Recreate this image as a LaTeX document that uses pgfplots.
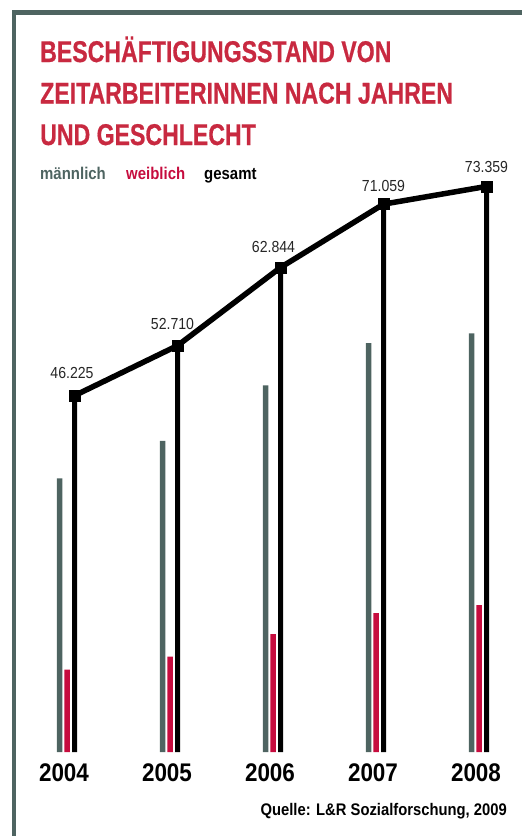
\documentclass[border=0pt]{standalone}
\usepackage{fontspec}
\setmainfont{Liberation Sans}
\newfontfamily\cond[FakeStretch=0.88]{Liberation Sans}
\newfontfamily\condT[FakeStretch=0.77, BoldFeatures={FakeBold=0.6}]{Liberation Sans}
\usepackage{pgfplots}
\usepackage{pgfplotstable}
\pgfplotsset{compat=1.18}
\definecolor{framegray}{HTML}{4E6461}
\definecolor{bargray}{HTML}{4E6461}
\definecolor{barred}{HTML}{C60C3E}
\definecolor{titlered}{HTML}{C82940}
\definecolor{valgray}{HTML}{262626}

\pgfplotstableread{
x male female
0 35500 10700
1 40350 12360
2 47550 15294
3 53040 18019
4 54310 19049
}\bars
\pgfplotstableread{
x total dx dy
0.073 46225 -2.5 23
1.073 52710 -5 21.5
2.073 62844 -7 20
3.073 71059 0 18
4.073 73359 0 19
}\totals

\begin{document}
\begin{tikzpicture}
\useasboundingbox (0pt,0pt) rectangle (522pt,-836pt);
\draw[framegray, line width=4.5pt] (14pt,-840pt) -- (14pt,-12.5pt) -- (526pt,-12.5pt);
\node[anchor=base west, inner sep=0, font=\condT\bfseries\fontsize{30}{30}\selectfont, text=titlered] at (40pt,-62pt) {BESCHÄFTIGUNGSSTAND VON};
\node[anchor=base west, inner sep=0, font=\condT\bfseries\fontsize{30}{30}\selectfont, text=titlered] at (40pt,-103.5pt) {ZEITARBEITERINNEN NACH JAHREN};
\node[anchor=base west, inner sep=0, font=\condT\bfseries\fontsize{30}{30}\selectfont, text=titlered] at (40pt,-145pt) {UND GESCHLECHT};
\node[anchor=base west, inner sep=0, font=\cond\bfseries\fontsize{17}{17}\selectfont, text=bargray] at (40pt,-179pt) {männlich};
\node[anchor=base west, inner sep=0, font=\cond\bfseries\fontsize{17}{17}\selectfont, text=barred] at (126pt,-179pt) {weiblich};
\node[anchor=base west, inner sep=0, font=\cond\bfseries\fontsize{17}{17}\selectfont, text=black] at (204pt,-179pt) {gesamt};
\node[anchor=base east, inner sep=0, font=\cond\bfseries\fontsize{16.8}{16.8}\selectfont] at (507pt,-815pt) {Quelle: L\&R Sozialforschung, 2009};
\begin{axis}[
  at={(20.65pt,-752pt)}, anchor=south west,
  scale only axis, width=499.55pt, height=616.8pt,
  xmin=-0.45, xmax=4.4, ymin=0, ymax=80000,
  axis line style={draw=none},
  ytick=\empty,
  xtick={0,1,2,3,4},
  xticklabels={2004,2005,2006,2007,2008},
  xtick style={draw=none}, major tick length=0pt,
  xticklabel style={anchor=center, yshift=-21pt, xshift=-3pt, font=\cond\bfseries\fontsize{25.5}{25.5}\selectfont},
  clip=false,
  /pgf/number format/.cd, assume math mode=true, 1000 sep={.}, fixed, precision=0,
]
\addplot[ybar, bar width=5.5pt, bar shift=-7.5pt, fill=bargray, draw=none] table[x=x, y=male] {\bars};
\addplot[ybar, bar width=5.5pt, bar shift=0pt, fill=barred, draw=none] table[x=x, y=female] {\bars};
\addplot[ybar, bar width=5pt, bar shift=0pt, fill=black, draw=none] table[x=x, y=total] {\totals};
\addplot[black, line width=5.5pt, mark=square*, mark size=5.5pt, mark options={line width=0.4pt, fill=black},
  point meta=y,
  visualization depends on={\thisrow{dx} \as \dx},
  visualization depends on={\thisrow{dy} \as \dy},
  nodes near coords,
  every node near coord/.append style={font=\cond\fontsize{16}{16}\selectfont, text=valgray, anchor=center, xshift=\dx pt, yshift=\dy pt}
] table[x=x, y=total] {\totals};
\end{axis}
\end{tikzpicture}
\end{document}
